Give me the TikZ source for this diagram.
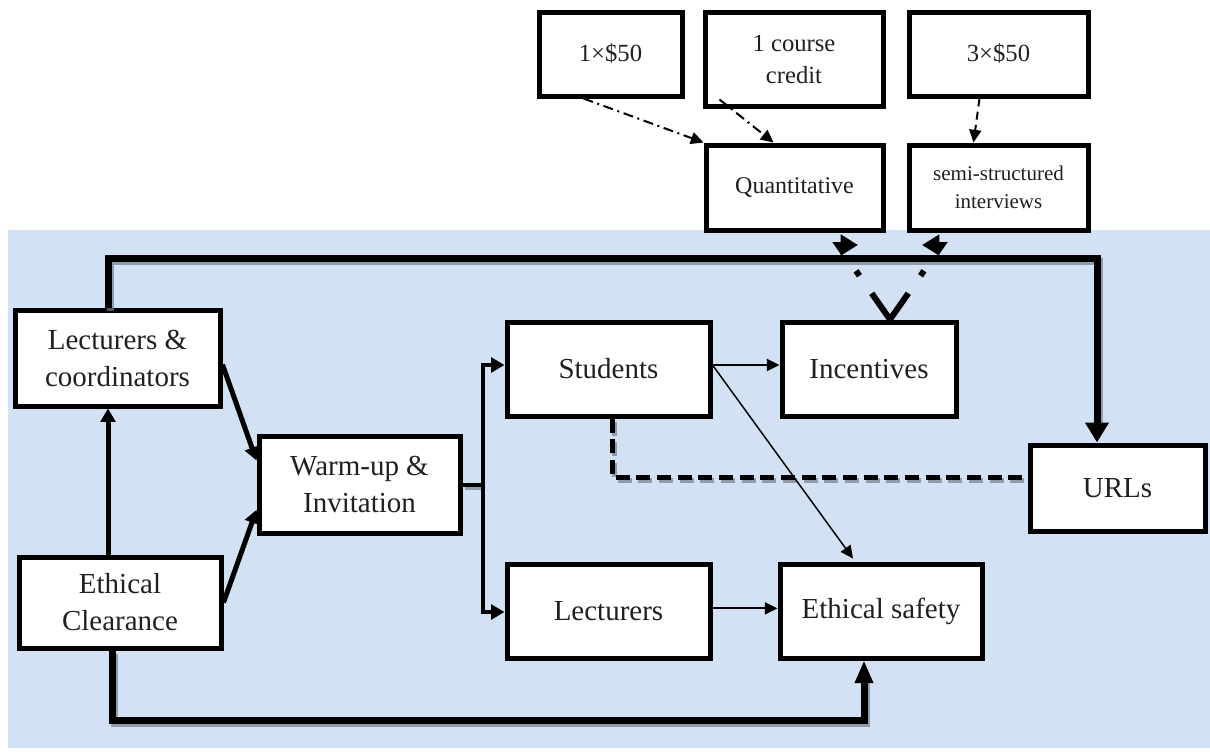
\documentclass[tikz,border=0pt]{standalone}
\usepackage{fontspec}
\setmainfont{Liberation Serif}
\usetikzlibrary{arrows.meta,calc}
\definecolor{paper}{RGB}{210,225,243}
\definecolor{ink}{RGB}{35,31,32}
\definecolor{shadowgray}{RGB}{120,128,138}

\begin{document}
\begin{tikzpicture}[x=0.75pt,y=-0.75pt,
  box/.style={draw, line width=3.75pt, fill=white, text=ink, align=center, inner sep=0pt},
  big/.style={font=\fontsize{21.75}{27.75}\selectfont},
  mid/.style={font=\fontsize{18.5}{24}\selectfont},
  small/.style={font=\fontsize{15.75}{21}\selectfont},
  frame/.style={line width=5.25pt},
  heavy/.style={line width=3.75pt},
  busline/.style={line width=3pt},
  fine/.style={line width=1.5pt},
  hair/.style={line width=1.1pt},
  dashline/.style={line width=3.75pt, dash pattern=on 10.5pt off 5pt},
  dotdash/.style={line width=1.5pt, dash pattern=on 7.5pt off 3.5pt on 1.5pt off 3.5pt},
  dashthin/.style={line width=1.5pt, dash pattern=on 6pt off 4pt},
  vline/.style={line width=4.5pt, dash pattern=on 24pt off 16pt on 4.5pt off 16pt},
  bigtip/.style={-{Triangle[length=15pt,width=17pt]}},
  bottip/.style={-{Triangle[length=17pt,width=13pt]}},
  midtip/.style={-{Triangle[length=10pt,width=11pt]}},
  smalltip/.style={-{Triangle[length=9.5pt,width=9pt]}},
  vtip/.style={-{Triangle[length=13pt,width=15pt]}}
]
\useasboundingbox (0,0) rectangle (1210,754);

% paper background behind the lower part
\fill[paper] (8,230) rectangle (1210,748);

% incentive boxes
\node[box, mid, minimum width=107.25pt, minimum height=63pt] (one50) at (610.5,54) {1×\$50};
\node[box, mid, minimum width=133.5pt, minimum height=70.5pt] (credit) at (794,59) {1 course\\credit};
\node[box, mid, minimum width=134.25pt, minimum height=63pt] (three50) at (998.5,54) {3×\$50};
\node[box, mid, font=\fontsize{18}{24}\selectfont, minimum width=132.75pt, minimum height=63.75pt] (quant) at (794.5,187.5) {Quantitative};
\node[box, small, minimum width=134.25pt, minimum height=63.75pt] (semi) at (998.5,187.5) {semi-structured\\interviews};

% main flow boxes
\node[box, big, minimum width=153.75pt, minimum height=72pt] (lc) at (117.5,358) {Lecturers \&\\coordinators};
\node[box, big, minimum width=151.5pt, minimum height=68.25pt] (ec) at (120,602.5) {Ethical\\Clearance};
\node[box, big, minimum width=150.75pt, minimum height=72.75pt] (wu) at (359.5,484.5) {Warm-up \&\\Invitation};
\node[box, big, minimum width=152.25pt, minimum height=70.5pt] (stu) at (608.5,369) {Students};
\node[box, big, minimum width=130.5pt, minimum height=70.5pt] (inc) at (869,369) {Incentives};
\node[box, big, minimum width=152.25pt, minimum height=70.5pt] (lec) at (608.5,611) {Lecturers};
\node[box, big, minimum width=151.5pt, minimum height=70.5pt] (es) at (881,611) {Ethical safety};
\node[box, big, minimum width=131.25pt, minimum height=64.5pt] (urls) at (1117.5,488) {URLs};

% routing points
\coordinate (tr) at (1097,258);
\coordinate (bot) at (864,720);
\coordinate (bus) at (483,478);
\coordinate (vt) at ($(inc.north)+(21,0)$);

% soft drop shadows under the heavy connectors
\begin{scope}[transform canvas={shift={(1.5pt,-2.25pt)}}, draw=shadowgray, opacity=0.7]
  \draw[frame] ([xshift=-7pt]lc.north) |- (tr) -- ([yshift=12pt]tr |- urls.north);
  \draw[frame] ([xshift=-6pt]ec.south) |- (bot) -- ([yshift=-12pt]bot |- es.south);
  \draw[dashline] ([xshift=3pt]stu.south) |- ([yshift=8pt]urls.west);
  \draw[busline] (wu.east) -- (wu.east -| bus);
\end{scope}

% incentive links
\draw[dotdash, smalltip] ($(one50.south)+(-27,0)$) -- (quant.north west);
\draw[dotdash, smalltip] ($(credit.south west)+(17,-9)$) -- ($(quant.north west)+(70,0)$);
\draw[dashthin, smalltip] ($(three50.south)+(-19,0)$) -- ($(semi.north)+(-25,0)$);

% incentives up to both study types
\draw[vline, vtip] (vt) -- (838,245) -- (858,245);
\draw[vline, vtip] (vt) -- (942,245) -- (922,245);

% top trunk from lecturers & coordinators to URLs
\draw[frame, bigtip] ([xshift=-7pt]lc.north) |- (tr) -- (tr |- urls.north);

% ethical clearance links
\draw[heavy, midtip] ([xshift=-9pt]ec.north) -- ([xshift=-9pt]ec.north |- lc.south);
\draw[frame, bottip] ([xshift=-6pt]ec.south) |- (bot) -- (bot |- es.south);

% into warm-up & invitation
\draw[heavy, midtip] ([yshift=-5pt]lc.east) -- ([yshift=18pt]wu.west);
\draw[heavy, midtip] (ec.east) -- ([yshift=-19pt]wu.west);

% branch to students and lecturers
\draw[busline] (wu.east) -- (wu.east -| bus);
\draw[busline, midtip] (wu.east -| bus) |- ([yshift=3pt]stu.west);
\draw[busline, midtip] (wu.east -| bus) |- ([yshift=-0.75pt]lec.west);

% student and lecturer outcomes
\draw[fine, smalltip] ([yshift=3pt]stu.east) -- ([yshift=3pt]inc.west);
\draw[hair, smalltip] ([yshift=3pt]stu.east) -- ($(es.north)+(-28,-3)$);
\draw[fine, smalltip] ([yshift=2pt]lec.east) -- ([yshift=2pt]es.west);

% students to URLs
\draw[dashline] ([xshift=3pt]stu.south) |- ([yshift=8pt]urls.west);
\end{tikzpicture}
\end{document}
